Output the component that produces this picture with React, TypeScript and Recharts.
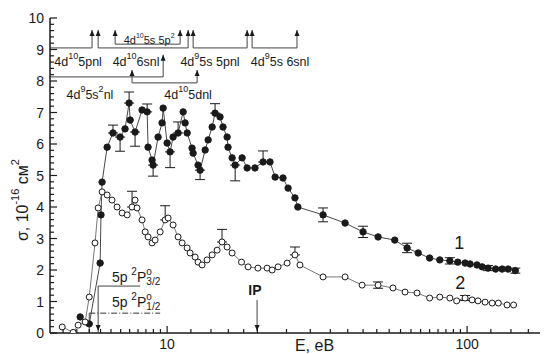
import React from 'react';
import {
  ComposedChart,
  Scatter,
  XAxis,
  YAxis,
  ErrorBar,
  ReferenceLine,
  ReferenceDot,
} from 'recharts';

// curve 1 (filled circles): energy, eV and cross-section, 1e-16 cm2
const s1Energy = [
  5.13, 5.5, 5.98, 6.02, 6.07, 6.31, 6.6, 6.97, 7.24, 7.47, 7.53, 7.82, 8.25, 8.58, 8.64, 8.91,
  8.98, 9.33, 9.62, 9.7, 10.0, 10.23, 10.47, 10.88, 11.31, 11.48, 11.66, 12.11, 12.21, 12.68,
  12.88, 13.39, 13.7, 14.13, 14.45, 15.01, 15.36, 15.85, 15.96, 16.47, 16.86, 17.78, 18.48,
  19.63, 20.89, 22.03, 22.91, 24.34, 25.31, 26.68, 27.28, 33.1, 39.2, 45.0, 50.5, 57.4, 63.1,
  68.7, 75.0, 81.1, 87.6, 93.1, 98.5, 102.3, 107.9, 112.2, 117.5, 124.5, 130.9, 137.0, 144.8,
];
const s1Sigma = [
  0.51, 0.29, 2.22, 3.75, 4.79, 5.9, 6.35, 6.22, 6.48, 7.3, 6.76, 6.38, 7.08, 7.02, 5.9, 5.49,
  5.33, 6.22, 6.67, 7.14, 6.03, 5.75, 6.22, 6.35, 7.02, 6.67, 6.35, 5.87, 5.71, 5.33,
  5.17, 5.81, 6.13, 6.54, 6.98, 6.86, 6.54, 6.22, 5.9, 5.56, 5.33, 5.56, 5.24,
  5.24, 5.43, 5.43, 4.95, 4.92, 4.6, 4.29, 4.0, 3.75, 3.49, 3.21, 3.05, 2.95, 2.7,
  2.54, 2.38, 2.32, 2.29, 2.25, 2.22, 2.19, 2.16, 2.1, 2.06, 2.03, 2.03, 2.03, 1.98,
];
const s1ErrEnergy = [6.6, 6.97, 7.47, 7.82, 8.58, 8.98, 10.23, 10.88, 12.88, 14.45, 16.86, 20.89, 33.1, 45.0, 63.1, 87.6, 117.5, 144.8];
const s1ErrDown = [0, 0.45, 0, 0.45, 0, 0.35, 0.5, 0, 0.3, 0, 0.5, 0, 0.22, 0.18, 0.15, 0.1, 0.08, 0.08];
const s1ErrUp = [0.25, 0, 0.35, 0, 0.25, 0, 0, 0.35, 0, 0.3, 0, 0.35, 0.22, 0.18, 0.15, 0.1, 0.08, 0.08];

// curve 2 (open circles)
const s2Energy = [
  4.47, 4.86, 5.05, 5.33, 5.5, 5.75, 5.89, 6.07, 6.31, 6.55, 6.81, 7.08, 7.36, 7.64, 7.82, 7.94,
  8.25, 8.45, 8.64, 8.91, 9.12, 9.48, 9.85, 10.08, 10.47, 10.88, 11.22, 11.66, 11.93, 12.4,
  12.68, 13.08, 13.59, 14.13, 14.68, 15.24, 15.85, 16.47, 17.7, 18.62, 20.08, 21.54, 22.39,
  23.44, 25.12, 26.68, 27.72, 33.1, 39.2, 44.67, 50.5, 56.6, 62.1, 68.1, 75.0, 81.1, 87.6,
  92.3, 98.5, 103.9, 108.7, 114.8, 121.2, 127.1, 135.9, 142.9,
];
const s2Sigma = [
  0.19, 0.02, 0.25, 0.35, 1.14, 2.86, 3.97, 4.48, 4.38, 4.22, 4.0, 3.81, 3.75, 4.0, 4.22, 3.97,
  3.59, 3.21, 3.05, 2.86, 2.95, 3.21, 3.59, 3.65, 3.43, 3.05, 2.86, 2.7, 2.54, 2.41,
  2.25, 2.16, 2.32, 2.48, 2.63, 2.89, 2.73, 2.54, 2.25, 2.1, 2.06, 2.06, 2.0,
  2.1, 2.22, 2.48, 2.16, 1.78, 1.78, 1.52, 1.52, 1.43, 1.3, 1.27, 1.11, 1.14, 1.11,
  1.02, 1.11, 1.05, 1.02, 0.98, 0.95, 0.95, 0.89, 0.89,
];
const s2ErrEnergy = [7.64, 9.85, 15.24, 26.68, 50.5, 98.5];
const s2ErrDown = [0, 0, 0, 0, 0.1, 0.08];
const s2ErrUp = [0.5, 0.45, 0.4, 0.25, 0.1, 0.08];

const xMajorTicks = [10, 100];
const xMinorTicks = [
  4.5, 5, 5.5, 6, 6.5, 7, 7.5, 8, 8.5, 9, 9.5, 12, 14, 16, 18, 20, 25, 30, 35, 40, 45, 50, 55,
  60, 65, 70, 75, 80, 85, 90, 95, 120, 140, 160,
];
const yMajorTicks = [0, 1, 2, 3, 4, 5, 6, 7, 8, 9, 10];

const X_DOMAIN: [number, number] = [4.07, 175];
const Y_DOMAIN: [number, number] = [0, 10];

const xTicks = [...xMinorTicks, ...xMajorTicks].sort((a, b) => a - b);
const yTicks: number[] = [];
yMajorTicks.forEach((v) => {
  yTicks.push(v);
  if (v < 10) [0.2, 0.4, 0.6, 0.8].forEach((d) => yTicks.push(+(v + d).toFixed(1)));
});

const buildSeries = (energy: number[], sigma: number[], errE: number[], down: number[], up: number[]) =>
  energy.map((e, i) => {
    const k = errE.indexOf(e);
    return { e, s: sigma[i], err: k >= 0 ? [down[k], up[k]] : undefined };
  });

const series1 = buildSeries(s1Energy, s1Sigma, s1ErrEnergy, s1ErrDown, s1ErrUp);
const series2 = buildSeries(s2Energy, s2Sigma, s2ErrEnergy, s2ErrDown, s2ErrUp);

// level diagram and threshold marks, in data coordinates [E1, s1, E2, s2]
const levelLines = [
  [4.07, 9.05, 5.62, 9.05], [5.62, 9.05, 5.62, 9.62], [5.89, 9.62, 5.89, 9.05],
  [5.89, 9.05, 11.75, 9.05], [11.75, 9.05, 11.75, 9.62], [12.21, 9.62, 12.21, 9.05],
  [12.21, 9.05, 18.48, 9.05], [18.48, 9.05, 18.48, 9.62], [19.2, 9.62, 19.2, 9.05],
  [19.2, 9.05, 27.1, 9.05], [27.1, 9.05, 27.1, 9.62],
  [6.71, 9.62, 6.71, 9.17], [6.71, 9.17, 11.05, 9.17], [11.05, 9.17, 11.05, 9.62],
  [4.07, 8.13, 9.7, 8.13], [9.7, 8.13, 9.7, 8.83],
  [7.64, 8.35, 7.64, 7.94], [7.64, 7.94, 12.59, 7.94], [12.59, 7.94, 12.59, 8.35],
  [5.89, 1.49, 8.13, 1.49], [5.89, 1.49, 5.89, 0.02],
  [5.5, 0.63, 9.48, 0.63], [5.5, 0.63, 5.5, 0.02],
  [19.95, 1.05, 19.95, 0.06],
];
const arrowsUp = [
  [5.62, 9.62], [5.89, 9.62], [11.75, 9.62], [12.21, 9.62], [18.48, 9.62], [19.2, 9.62],
  [27.1, 9.62], [6.71, 9.62], [11.05, 9.62], [9.7, 8.83], [7.64, 8.35], [12.59, 8.35],
];
const arrowsDown = [[19.95, 0.06], [5.89, 0.06]];

type Part = { t: string; k?: 'sup' | 'sub' | 'supsub' };
const levelLabels: { e: number; s: number; size: number; parts: Part[] }[] = [
  { e: 5.05, s: 8.6, size: 12.5, parts: [{ t: '4d' }, { t: '10', k: 'sup' }, { t: '5pnl' }] },
  { e: 7.88, s: 8.6, size: 12.5, parts: [{ t: '4d' }, { t: '10', k: 'sup' }, { t: '6snl' }] },
  { e: 13.9, s: 8.6, size: 12.5, parts: [{ t: '4d' }, { t: '9', k: 'sup' }, { t: '5s 5pnl' }] },
  { e: 23.8, s: 8.6, size: 12.5, parts: [{ t: '4d' }, { t: '9', k: 'sup' }, { t: '5s 6snl' }] },
  { e: 8.71, s: 9.3, size: 11, parts: [{ t: '4d' }, { t: '10', k: 'sup' }, { t: '5s 5p' }, { t: '2', k: 'sup' }] },
  { e: 5.53, s: 7.56, size: 12.5, parts: [{ t: '4d' }, { t: '9', k: 'sup' }, { t: '5s' }, { t: '2', k: 'sup' }, { t: 'nl' }] },
  { e: 11.75, s: 7.56, size: 12.5, parts: [{ t: '4d' }, { t: '10', k: 'sup' }, { t: '5dnl' }] },
];
const termLabels: { e: number; s: number; parts: Part[] }[] = [
  { e: 7.88, s: 1.78, parts: [{ t: '5p ' }, { t: '2', k: 'sup' }, { t: 'P' }, { t: 'o', k: 'sup' }, { t: '3/2', k: 'supsub' }] },
  { e: 7.88, s: 0.98, parts: [{ t: '5p ' }, { t: '2', k: 'sup' }, { t: 'P' }, { t: 'o', k: 'sup' }, { t: '1/2', k: 'supsub' }] },
];

const INK = '#1a1a1a';
const FONT = '"Liberation Sans", Arial, sans-serif';

const RichText = ({ x, y, parts, size }: { x: number; y: number; parts: Part[]; size: number }) => {
  const small = Math.round(size * 0.68);
  const els: React.ReactNode[] = [];
  let shift = 0;
  parts.forEach((p, i) => {
    let target = 0;
    let fs = size;
    let dx = 0;
    if (p.k === 'sup') { target = -size * 0.45; fs = small; }
    if (p.k === 'supsub') { target = size * 0.3; fs = small; dx = -small * 0.55; }
    els.push(
      <tspan key={i} dy={target - shift} dx={dx} fontSize={fs}>{p.t}</tspan>
    );
    shift = target;
  });
  return (
    <text x={x} y={y} textAnchor="middle" dominantBaseline="central" fontFamily={FONT} fontSize={size} fill={INK}>
      {els}
    </text>
  );
};

const BottomTick = (p: any) => {
  const v = p.payload.value;
  const major = xMajorTicks.includes(v);
  return (
    <g>
      <line x1={p.x} y1={p.y} x2={p.x} y2={p.y - (major ? 7 : 4)} stroke={INK} strokeWidth={1.2} />
      {major && (
        <text x={p.x} y={p.y + 16} textAnchor="middle" fontFamily={FONT} fontSize={14} fill={INK}>{v}</text>
      )}
    </g>
  );
};
const TopTick = (p: any) => {
  const major = xMajorTicks.includes(p.payload.value);
  return <line x1={p.x} y1={p.y} x2={p.x} y2={p.y + (major ? 7 : 4)} stroke={INK} strokeWidth={1.2} />;
};
const LeftTick = (p: any) => {
  const v = p.payload.value;
  const major = yMajorTicks.includes(v);
  return (
    <g>
      <line x1={p.x} y1={p.y} x2={p.x + (major ? 7 : 4)} y2={p.y} stroke={INK} strokeWidth={1.2} />
      {major && (
        <text x={p.x - 6} y={p.y + 5} textAnchor="end" fontFamily={FONT} fontSize={14} fill={INK}>{v}</text>
      )}
    </g>
  );
};
const RightTick = (p: any) => {
  const major = yMajorTicks.includes(p.payload.value);
  return <line x1={p.x} y1={p.y} x2={p.x - (major ? 7 : 4)} y2={p.y} stroke={INK} strokeWidth={1.2} />;
};

const FilledDot = (p: any) => <circle cx={p.cx} cy={p.cy} r={3.2} fill={INK} stroke={INK} />;
const OpenDot = (p: any) => <circle cx={p.cx} cy={p.cy} r={3} fill="#fff" stroke={INK} strokeWidth={1} />;

export default function App() {
  return (
    <div style={{ position: 'absolute', left: 0, top: 0, background: '#fff' }}>
      <ComposedChart width={545} height={354} margin={{ top: 18, right: 5, bottom: 0, left: 10 }}>
        <XAxis
          dataKey="e"
          type="number"
          scale="log"
          domain={X_DOMAIN}
          allowDataOverflow
          ticks={xTicks}
          interval={0}
          height={21}
          tickSize={0}
          tickMargin={0}
          tickLine={false}
          tick={<BottomTick />}
          axisLine={{ stroke: INK, strokeWidth: 1.5 }}
        />
        <XAxis
          xAxisId="top"
          orientation="top"
          type="number"
          scale="log"
          domain={X_DOMAIN}
          allowDataOverflow
          ticks={xTicks}
          interval={0}
          height={0}
          tickSize={0}
          tickMargin={0}
          tickLine={false}
          tick={<TopTick />}
          axisLine={{ stroke: INK, strokeWidth: 1.5 }}
        />
        <YAxis
          dataKey="s"
          type="number"
          domain={Y_DOMAIN}
          allowDataOverflow
          ticks={yTicks}
          interval={0}
          width={40}
          tickSize={0}
          tickMargin={0}
          tickLine={false}
          tick={<LeftTick />}
          axisLine={{ stroke: INK, strokeWidth: 1.5 }}
        />
        <YAxis
          yAxisId="right"
          orientation="right"
          type="number"
          domain={Y_DOMAIN}
          allowDataOverflow
          ticks={yTicks}
          interval={0}
          width={0}
          tickSize={0}
          tickMargin={0}
          tickLine={false}
          tick={<RightTick />}
          axisLine={{ stroke: INK, strokeWidth: 1.5 }}
        />

        {levelLines.map(([x1, y1, x2, y2], i) => (
          <ReferenceLine
            key={`l${i}`}
            segment={[{ x: x1, y: y1 }, { x: x2, y: y2 }]}
            stroke={i === 21 ? '#333' : '#444'}
            strokeDasharray={i === 21 ? '6 2 1 2' : undefined}
            strokeWidth={1}
            ifOverflow="visible"
          />
        ))}
        {arrowsUp.map(([e, s], i) => (
          <ReferenceDot
            key={`u${i}`}
            x={e}
            y={s}
            r={0}
            ifOverflow="visible"
            shape={(p: any) => (
              <path d={`M${p.cx},${p.cy} l-2.5,6 l5,0 z`} fill={INK} />
            )}
          />
        ))}
        {arrowsDown.map(([e, s], i) => (
          <ReferenceDot
            key={`d${i}`}
            x={e}
            y={s}
            r={0}
            ifOverflow="visible"
            shape={(p: any) => (
              <path d={`M${p.cx},${p.cy} l-2.5,-6 l5,0 z`} fill={INK} />
            )}
          />
        ))}

        <Scatter
          data={series1}
          dataKey="s"
          isAnimationActive={false}
          line={{ stroke: '#333', strokeWidth: 0.9 }}
          shape={<FilledDot />}
        >
          <ErrorBar dataKey="err" direction="y" width={5} stroke={INK} strokeWidth={1} />
        </Scatter>
        <Scatter
          data={series2}
          dataKey="s"
          isAnimationActive={false}
          line={{ stroke: '#555', strokeWidth: 0.8 }}
          shape={<OpenDot />}
        >
          <ErrorBar dataKey="err" direction="y" width={5} stroke={INK} strokeWidth={1} />
        </Scatter>

        {levelLabels.map((l, i) => (
          <ReferenceDot
            key={`t${i}`}
            x={l.e}
            y={l.s}
            r={0}
            ifOverflow="visible"
            shape={(p: any) => <RichText x={p.cx} y={p.cy} parts={l.parts} size={l.size} />}
          />
        ))}
        {termLabels.map((l, i) => (
          <ReferenceDot
            key={`p${i}`}
            x={l.e}
            y={l.s}
            r={0}
            ifOverflow="visible"
            shape={(p: any) => <RichText x={p.cx} y={p.cy} parts={l.parts} size={14} />}
          />
        ))}
        <ReferenceDot
          x={19.63}
          y={1.37}
          r={0}
          ifOverflow="visible"
          shape={(p: any) => (
            <text x={p.cx} y={p.cy} textAnchor="middle" dominantBaseline="central" fontFamily={FONT} fontSize={14} fontWeight="bold" fill={INK}>IP</text>
          )}
        />
        <ReferenceDot
          x={94.1}
          y={2.86}
          r={0}
          ifOverflow="visible"
          shape={(p: any) => (
            <text x={p.cx} y={p.cy} textAnchor="middle" dominantBaseline="central" fontFamily={FONT} fontSize={18} fill={INK}>1</text>
          )}
        />
        <ReferenceDot
          x={94.9}
          y={1.59}
          r={0}
          ifOverflow="visible"
          shape={(p: any) => (
            <text x={p.cx} y={p.cy} textAnchor="middle" dominantBaseline="central" fontFamily={FONT} fontSize={18} fill={INK}>2</text>
          )}
        />
        <ReferenceDot
          x={31}
          y={-0.4}
          r={0}
          ifOverflow="visible"
          shape={(p: any) => (
            <text x={p.cx} y={p.cy} textAnchor="middle" dominantBaseline="central" fontFamily={FONT} fontSize={16} fill={INK}>E, eB</text>
          )}
        />
        <ReferenceDot
          x={3.29}
          y={4.22}
          r={0}
          ifOverflow="visible"
          shape={(p: any) => (
            <g transform={`rotate(-90 ${p.cx} ${p.cy})`}>
              <RichText
                x={p.cx}
                y={p.cy}
                size={16}
                parts={[{ t: 'σ, 10' }, { t: '-16', k: 'sup' }, { t: ' cм' }, { t: '2', k: 'sup' }]}
              />
            </g>
          )}
        />
      </ComposedChart>
    </div>
  );
}
